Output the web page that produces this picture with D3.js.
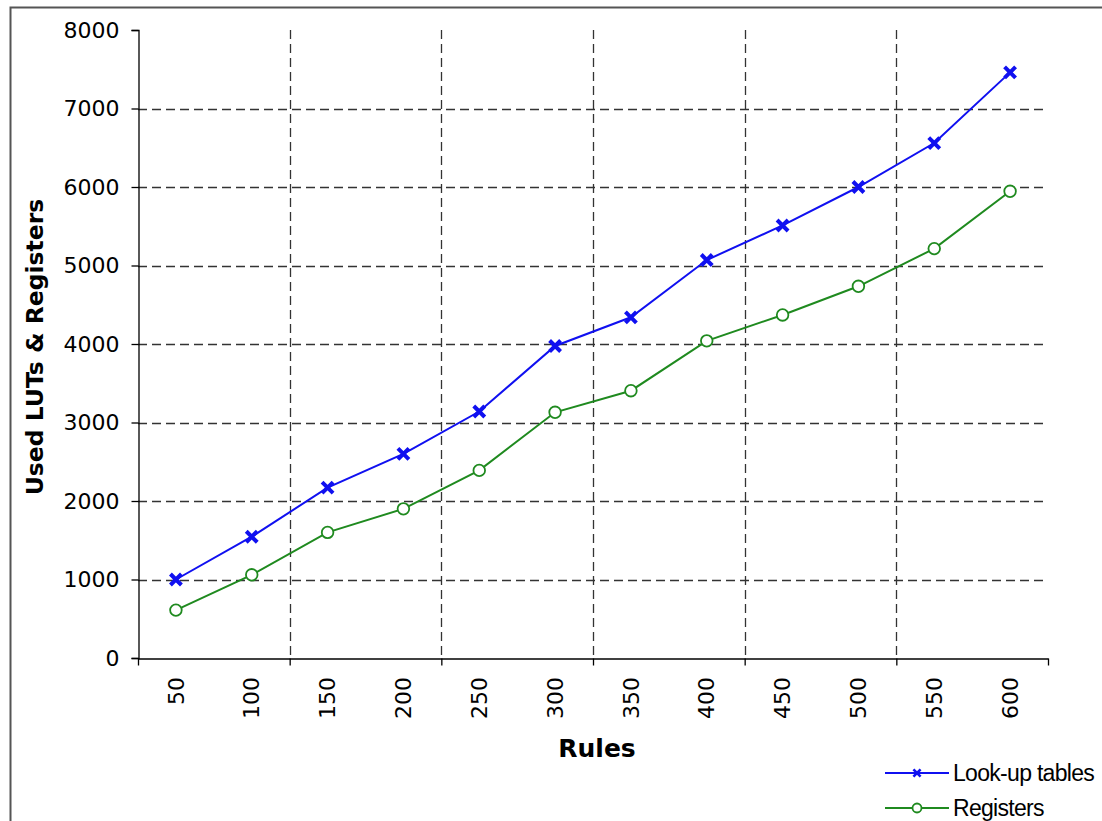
<!DOCTYPE html>
<html>
<head>
<meta charset="utf-8">
<script src="https://cdn.jsdelivr.net/npm/d3@7"></script>
<style>
  body { margin: 0; background: #fff; }
</style>
</head>
<body>
<div id="chart"></div>
<script>
const rules = [50, 100, 150, 200, 250, 300, 350, 400, 450, 500, 550, 600]
const luts = [1000, 1545, 2170, 2600, 3140, 3975, 4340, 5070, 5510, 6000, 6560, 7460]
const registers = [610, 1060, 1600, 1900, 2390, 3130, 3405, 4040, 4370, 4735, 5215, 5945]
const yTicks = [0, 1000, 2000, 3000, 4000, 5000, 6000, 7000, 8000]
const seriesNames = ["Look-up tables", "Registers"]

const W = 1102, H = 821
const plotLeft = 138, plotRight = 1048, plotTop = 30, plotBottom = 658
const font = "DejaVu Sans"

const svg = d3.select("#chart").append("svg")
    .attr("width", W)
    .attr("height", H)

// outer frame
svg.append("rect")
    .attr("x", 10.5).attr("y", 7.5)
    .attr("width", W + 20).attr("height", H + 20)
    .attr("fill", "none")
    .attr("stroke", "#555")
    .attr("stroke-width", 2)

const x = d3.scaleBand().domain(rules).range([plotLeft, plotRight]).padding(0)
const xIdx = d3.scaleLinear().domain([0, rules.length]).range([plotLeft, plotRight])
const y = d3.scaleLinear().domain([0, 8000]).range([plotBottom, plotTop])
const cx = d => x(d) + x.bandwidth() / 2

// gridlines
svg.append("g")
    .selectAll("line")
    .data(yTicks.filter(t => t > 0 && t < 8000))
    .enter().append("line")
    .attr("x1", plotLeft).attr("x2", plotRight)
    .attr("y1", d => Math.round(y(d)) + 0.5).attr("y2", d => Math.round(y(d)) + 0.5)
    .attr("stroke", "#333").attr("stroke-width", 1.3).attr("stroke-dasharray", "9,5")

svg.append("g")
    .selectAll("line")
    .data([2, 4, 6, 8, 10])
    .enter().append("line")
    .attr("x1", d => Math.round(xIdx(d)) + 0.5).attr("x2", d => Math.round(xIdx(d)) + 0.5)
    .attr("y1", plotTop).attr("y2", plotBottom)
    .attr("stroke", "#333").attr("stroke-width", 1.3).attr("stroke-dasharray", "9,5")

// axes
const yAxis = d3.axisLeft(y).tickValues(yTicks).tickFormat(d3.format("d")).tickSize(7).tickPadding(12)
svg.append("g")
    .attr("transform", `translate(${plotLeft + 0.5},0)`)
    .call(yAxis)
    .call(g => g.selectAll("text").attr("font-size", 22).attr("fill", "#000").attr("font-family", font))
    .call(g => g.selectAll("line, path").attr("stroke", "#000").attr("stroke-width", 1.3))

const xTickAxis = d3.axisBottom(xIdx).tickValues([0, 2, 4, 6, 8, 10, 12]).tickSize(7).tickFormat("").tickSizeOuter(0)
svg.append("g")
    .attr("transform", `translate(0,${plotBottom + 0.5})`)
    .call(xTickAxis)
    .call(g => g.selectAll("line, path").attr("stroke", "#000").attr("stroke-width", 1.3))

const xAxis = d3.axisBottom(x).tickSize(0).tickPadding(0)
svg.append("g")
    .attr("transform", `translate(0,${plotBottom})`)
    .call(xAxis)
    .call(g => g.select(".domain").remove())
    .call(g => g.selectAll("text")
        .attr("font-size", 22).attr("fill", "#000").attr("font-family", font)
        .attr("transform", "rotate(-90)")
        .attr("text-anchor", "end")
        .attr("x", -19).attr("y", 0).attr("dy", "0.35em"))

// titles
svg.append("text")
    .attr("x", 597).attr("y", 757)
    .attr("text-anchor", "middle")
    .attr("font-family", font)
    .attr("font-size", 25).attr("font-weight", "bold")
    .text("Rules")

svg.append("text")
    .attr("transform", "translate(43,347) rotate(-90)")
    .attr("text-anchor", "middle")
    .attr("font-family", font)
    .attr("font-size", 23.5).attr("font-weight", "bold")
    .text("Used LUTs & Registers")

// lines
const colors = ["#1010f0", "#1f8a1f"]
const line = d3.line().x((d, i) => cx(rules[i])).y(d => y(d))

const crossPath = "M-5.5,-5.5L5.5,5.5M-5.5,5.5L5.5,-5.5"

function drawCross(sel, color) {
    sel.append("path")
        .attr("d", crossPath)
        .attr("stroke", color).attr("stroke-width", 4).attr("fill", "none")
}

svg.append("path").datum(luts)
    .attr("d", line).attr("fill", "none")
    .attr("stroke", colors[0]).attr("stroke-width", 2)

svg.append("path").datum(registers)
    .attr("d", line).attr("fill", "none")
    .attr("stroke", colors[1]).attr("stroke-width", 2)

svg.append("g").selectAll("g")
    .data(luts).enter().append("g")
    .attr("transform", (d, i) => `translate(${cx(rules[i])},${y(d)})`)
    .each(function () { drawCross(d3.select(this), colors[0]) })

svg.append("g").selectAll("circle")
    .data(registers).enter().append("circle")
    .attr("cx", (d, i) => cx(rules[i])).attr("cy", d => y(d))
    .attr("r", 5.8)
    .attr("fill", "#fff").attr("stroke", colors[1]).attr("stroke-width", 1.8)

// legend
const legend = svg.append("g")
seriesNames.forEach((name, i) => {
    const ly = 773 + i * 35
    legend.append("line")
        .attr("x1", 885).attr("x2", 949).attr("y1", ly).attr("y2", ly)
        .attr("stroke", colors[i]).attr("stroke-width", 2)
    if (i === 0) {
        const g = legend.append("g").attr("transform", `translate(917,${ly}) scale(0.65)`)
        drawCross(g, colors[0])
    } else {
        legend.append("circle").attr("cx", 917).attr("cy", ly).attr("r", 4.5)
            .attr("fill", "#fff").attr("stroke", colors[1]).attr("stroke-width", 1.8)
    }
    legend.append("text")
        .attr("x", 953).attr("y", ly).attr("dy", "0.35em")
        .attr("font-family", "Liberation Sans")
        .attr("font-size", 23)
        .attr("letter-spacing", -0.7)
        .text(name)
})
</script>
</body>
</html>
